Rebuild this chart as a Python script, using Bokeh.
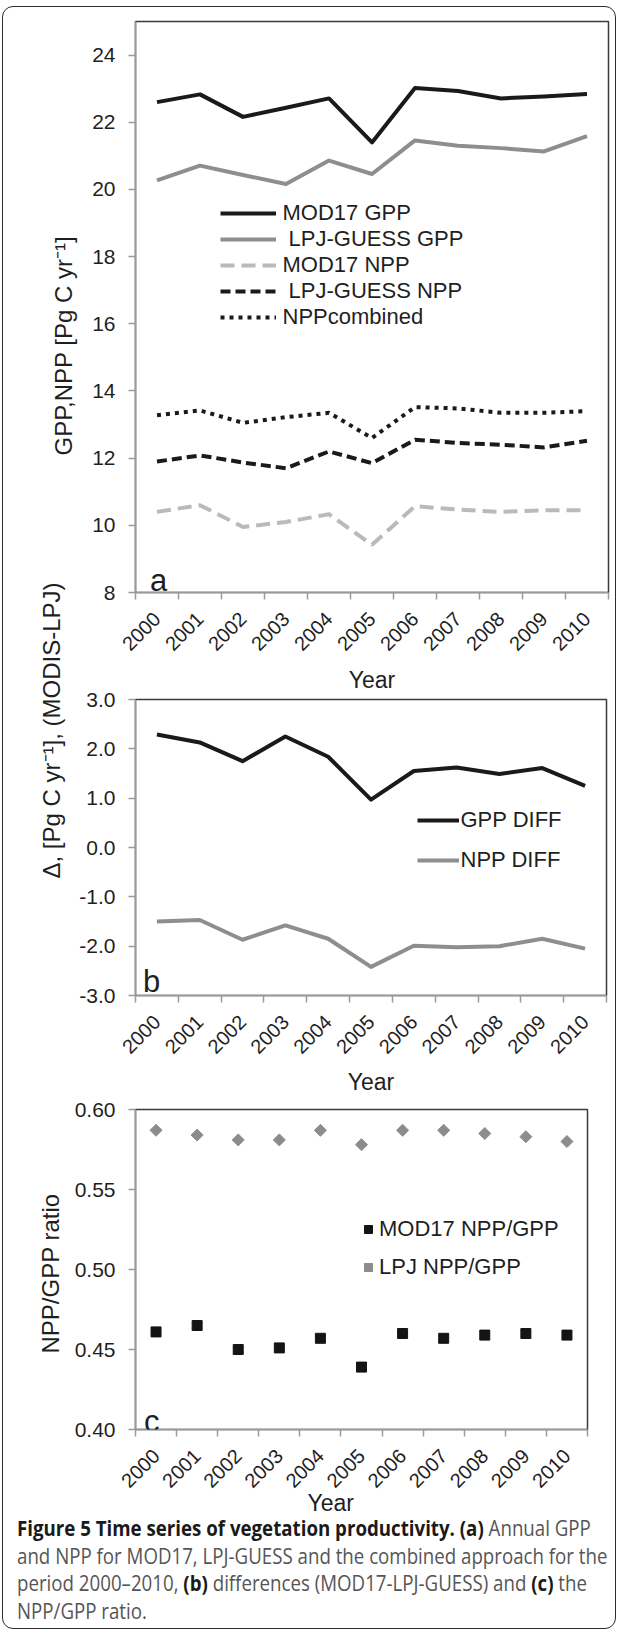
from math import pi
from bokeh.plotting import figure
from bokeh.models import (Range1d, FixedTicker, Legend, LegendItem, Label, Div, Title,
                          NumeralTickFormatter)
from bokeh.layouts import column
from bokeh.embed import file_html
from bokeh.resources import INLINE

# ---------------- data ----------------
years = ["2000", "2001", "2002", "2003", "2004", "2005",
         "2006", "2007", "2008", "2009", "2010"]

mod17_gpp = [22.60, 22.83, 22.16, 22.43, 22.71, 21.40, 23.02, 22.93, 22.71, 22.77, 22.84]
lpj_gpp = [20.27, 20.71, 20.43, 20.16, 20.86, 20.46, 21.46, 21.30, 21.23, 21.13, 21.59]
mod17_npp = [10.40, 10.60, 9.95, 10.10, 10.33, 9.42, 10.57, 10.47, 10.40, 10.45, 10.45]
lpj_npp = [11.90, 12.08, 11.87, 11.70, 12.20, 11.85, 12.55, 12.45, 12.40, 12.32, 12.52]
npp_combined = [13.28, 13.42, 13.05, 13.22, 13.35, 12.60, 13.52, 13.48, 13.35, 13.35, 13.40]

gpp_diff = [2.29, 2.13, 1.75, 2.25, 1.84, 0.97, 1.55, 1.62, 1.49, 1.61, 1.25]
npp_diff = [-1.50, -1.47, -1.87, -1.58, -1.85, -2.42, -1.99, -2.02, -2.00, -1.85, -2.05]

mod17_ratio = [0.461, 0.465, 0.450, 0.451, 0.457, 0.439, 0.460, 0.457, 0.459, 0.460, 0.459]
lpj_ratio = [0.587, 0.584, 0.581, 0.581, 0.587, 0.578, 0.587, 0.587, 0.585, 0.583, 0.580]

yticks_a = [8, 10, 12, 14, 16, 18, 20, 22, 24]
yticks_b = [-3, -2, -1, 0, 1, 2, 3]
yticks_c = [0.40, 0.45, 0.50, 0.55, 0.60]

# ---------------- styling ----------------
FONT = "Liberation Sans"
TXT = "#1f1f1f"
AXC = "#9a9a9a"
x = list(range(len(years)))


def make_fig(ylo, yhi, yticks, fmt, fw, fh, bl, bt, br, bb, margin=0):
    p = figure(frame_width=fw, frame_height=fh,
               min_border_left=bl, min_border_top=bt,
               min_border_right=br, min_border_bottom=bb,
               x_range=Range1d(-0.5, len(years) - 0.5),
               y_range=Range1d(ylo, yhi),
               output_backend="svg", toolbar_location=None, tools="",
               margin=margin)
    p.border_fill_color = None
    p.background_fill_color = "white"
    p.outline_line_color = "#3a3a3a"
    p.outline_line_width = 1.5
    p.xgrid.visible = False
    p.ygrid.visible = False

    xa = p.xaxis[0]
    xa.ticker = FixedTicker(ticks=x, minor_ticks=[i - 0.5 for i in range(len(years) + 1)])
    xa.major_label_overrides = {i: y for i, y in zip(x, years)}
    xa.major_label_orientation = pi / 4
    xa.major_tick_out = 0
    xa.major_tick_in = 0
    xa.minor_tick_out = 7
    xa.minor_tick_in = 0
    xa.minor_tick_line_color = AXC
    xa.minor_tick_line_width = 1.5
    xa.axis_line_color = AXC
    xa.axis_line_width = 1.5
    xa.major_label_standoff = 16
    xa.major_label_text_font = FONT
    xa.major_label_text_font_size = "20px"
    xa.major_label_text_color = TXT

    ya = p.yaxis[0]
    ya.ticker = FixedTicker(ticks=yticks)
    ya.formatter = NumeralTickFormatter(format=fmt)
    ya.major_tick_out = 7
    ya.major_tick_in = 0
    ya.minor_tick_out = 0
    ya.minor_tick_in = 0
    ya.major_tick_line_color = AXC
    ya.major_tick_line_width = 1.5
    ya.axis_line_color = AXC
    ya.axis_line_width = 1.5
    ya.major_label_standoff = 13
    ya.major_label_text_font = FONT
    ya.major_label_text_font_size = "21px"
    ya.major_label_text_color = TXT
    return p


def add_title(p, text, side, align, offset, standoff, size):
    p.add_layout(Title(text=text, align=align, offset=offset, standoff=standoff,
                       text_font=FONT, text_font_size=size, text_font_style="normal",
                       text_color=TXT), side)


def add_letter(p, text, xs, ys):
    p.add_layout(Label(x=xs, y=ys, x_units="screen", y_units="screen", text=text,
                       text_align="left", text_baseline="alphabetic",
                       text_font=FONT, text_font_size="31px", text_color=TXT))


def make_legend(items, loc, spacing, gw, standoff):
    return Legend(items=items, location=loc, orientation="vertical",
                  border_line_color=None, background_fill_alpha=0,
                  padding=0, margin=0, spacing=spacing,
                  glyph_width=gw, glyph_height=20, label_height=20,
                  label_standoff=standoff,
                  label_text_font=FONT, label_text_font_size="22px",
                  label_text_color=TXT)


# ---------------- panel a ----------------
pa = make_fig(8, 25, yticks_a, "0", 473, 571, 116, 14, 23, 104)
r1 = pa.line(x, mod17_gpp, line_color="#1a1a1a", line_width=4, line_join="round")
r2 = pa.line(x, lpj_gpp, line_color="#8e8e8e", line_width=4, line_join="round")
r3 = pa.line(x, mod17_npp, line_color="#bababa", line_width=4, line_dash="14 7")
r4 = pa.line(x, lpj_npp, line_color="#1a1a1a", line_width=4, line_dash="10 5")
r5 = pa.line(x, npp_combined, line_color="#1a1a1a", line_width=4, line_dash="4 5")
pa.add_layout(make_legend([
    LegendItem(label="MOD17 GPP", renderers=[r1]),
    LegendItem(label=" LPJ-GUESS GPP", renderers=[r2]),
    LegendItem(label="MOD17 NPP", renderers=[r3]),
    LegendItem(label=" LPJ-GUESS NPP", renderers=[r4]),
    LegendItem(label="NPPcombined", renderers=[r5]),
], (84.5, 262), 0, 56, 7))
add_title(pa, "GPP,NPP [Pg C yr\u207b\u00b9]", "left", "left", 137, 25, "24px")
add_title(pa, "Year", "below", "center", 0, 10, "23px")
add_letter(pa, "a", 14.5, 12.5)

# ---------------- panel b ----------------
pb = make_fig(-3, 3, yticks_b, "0.0", 471, 296, 124, 132, 17, 97, margin=(-130, 0, 0, 0))
g1 = pb.line(x, gpp_diff, line_color="#1a1a1a", line_width=4, line_join="round")
g2 = pb.line(x, npp_diff, line_color="#8e8e8e", line_width=4, line_join="round")
pb.add_layout(make_legend([
    LegendItem(label="GPP DIFF", renderers=[g1]),
    LegendItem(label="NPP DIFF", renderers=[g2]),
], (281.5, 122.5), 14, 42, 2))
add_title(pb, "\u0394, [Pg C yr\u207b\u00b9], (MODIS-LPJ)", "left", "left", 117, 24, "24px")
add_title(pb, "Year", "below", "center", 0, 9, "23px")
add_letter(pb, "b", 7.5, 14.5)

# ---------------- panel c ----------------
pc = make_fig(0.40, 0.60, yticks_c, "0.00", 452, 320, 132, 10, 28, 86)
s1 = pc.scatter(x, mod17_ratio, marker="square", size=10, color="#141414")
s2 = pc.scatter(x, lpj_ratio, marker="square", angle=pi / 4, size=8.5, color="#8c8c8c")
pc.add_layout(make_legend([
    LegendItem(label="MOD17 NPP/GPP", renderers=[s1]),
    LegendItem(label="LPJ NPP/GPP", renderers=[s2]),
], (223, 149), 12, 20, 1))
add_title(pc, "NPP/GPP ratio", "left", "left", 76, 15, "24px")
add_title(pc, "Year", "below", "left", 172, -18, "23px")
add_letter(pc, "c", 8.5, 8)

# ---------------- caption ----------------
LINE = 'height:27.7px;line-height:27.7px;'
B = '<b style="color:#1a1a1a">'
caption_html = (
    '<div style="padding:0 0 0 13.5px;">'
    '<div style="font-family:\'Open Sans\',sans-serif;font-size:21px;'
    'color:#555555;white-space:nowrap;transform:scaleX(0.89);transform-origin:0 0;">'
    f'<div style="{LINE}">{B}Figure 5 Time series of vegetation productivity.</b> {B}(a)</b> Annual GPP</div>'
    f'<div style="{LINE}">and NPP for MOD17, LPJ-GUESS and the combined approach for the</div>'
    f'<div style="{LINE}">period 2000\u20132010, {B}(b)</b> differences (MOD17-LPJ-GUESS) and {B}(c)</b> the</div>'
    f'<div style="{LINE}">NPP/GPP ratio.</div>'
    '</div></div>'
)
cap = Div(text=caption_html, width=612, height=113, margin=0)

layout = column(pa, pb, pc, cap, margin=(6, 0, 0, 2),
                styles={"border": "1.5px solid #2d2d2d", "border-radius": "11px"})

open("out.html", "w").write(file_html(layout, INLINE))
